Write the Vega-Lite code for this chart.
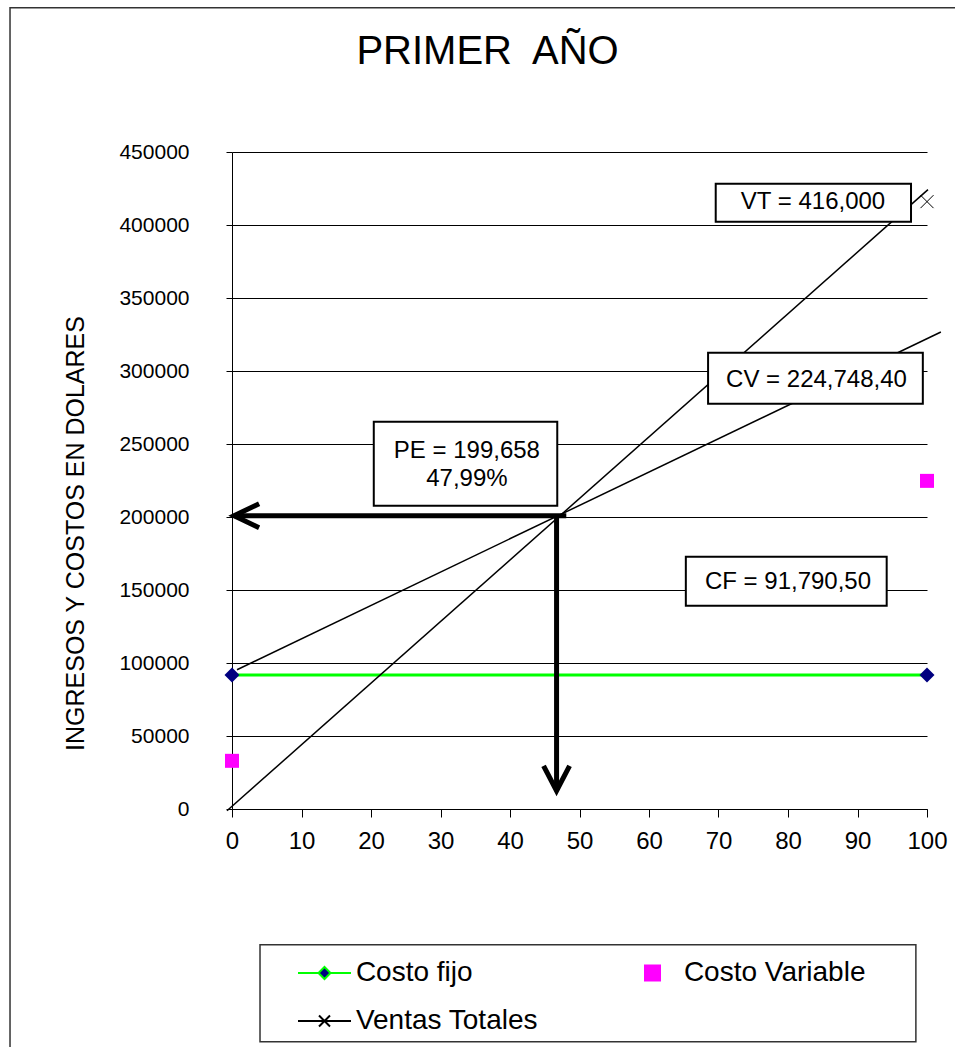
{
  "$schema": "https://vega.github.io/schema/vega-lite/v6.json",
  "width": 695,
  "height": 657,
  "autosize": {"type": "none"},
  "padding": {"left": 232, "top": 152, "right": 28, "bottom": 238},
  "background": "white",
  "title": {
    "text": "PRIMER\u00a0 AÑO",
    "font": "Liberation Sans",
    "fontSize": 40,
    "fontWeight": "normal",
    "color": "black",
    "anchor": "middle",
    "dx": -92,
    "offset": 0,
    "dy": 97,
    "baseline": "alphabetic"
  },
  "config": {
    "view": {"stroke": null},
    "font": "Liberation Sans"
  },
  "datasets": {
    "series": [
      {"serie": "Costo fijo", "x": 0, "y": 91790.5},
      {"serie": "Costo fijo", "x": 100, "y": 91790.5},
      {"serie": "Costo Variable", "x": 0, "y": 33000},
      {"serie": "Costo Variable", "x": 100, "y": 224748.4},
      {"serie": "Ventas Totales", "x": 100, "y": 416000}
    ],
    "frames": [
      {"id": "chart", "x1": -31.94, "x2": 104.7, "y1": -164860, "y2": 548840},
      {"id": "legend", "x1": 4.03, "x2": 98.4, "y1": -159380, "y2": -92950}
    ],
    "guides": [
      {"part": "VT", "seq": 0, "x": -0.72, "y": -1200},
      {"part": "VT", "seq": 1, "x": 100.14, "y": 424200},
      {"part": "CT", "seq": 0, "x": 0.72, "y": 95400},
      {"part": "CT", "seq": 1, "x": 102.0, "y": 326700}
    ],
    "arrows": [
      {"part": "h", "seq": 0, "x": 48.1, "y": 200900},
      {"part": "h", "seq": 1, "x": 0.3, "y": 200900},
      {"part": "hHead", "seq": 0, "x": 3.9, "y": 209100},
      {"part": "hHead", "seq": 1, "x": 0.3, "y": 200900},
      {"part": "hHead", "seq": 2, "x": 3.9, "y": 192700},
      {"part": "v", "seq": 0, "x": 46.7, "y": 200900},
      {"part": "v", "seq": 1, "x": 46.7, "y": 12500},
      {"part": "vHead", "seq": 0, "x": 44.83, "y": 29600},
      {"part": "vHead", "seq": 1, "x": 46.7, "y": 12500},
      {"part": "vHead", "seq": 2, "x": 48.57, "y": 29600}
    ],
    "boxes": [
      {"id": "VT", "x1": 69.6, "x2": 97.7, "y1": 402300, "y2": 428300},
      {"id": "CV", "x1": 68.5, "x2": 99.4, "y1": 277600, "y2": 312500},
      {"id": "PE", "x1": 20.4, "x2": 46.8, "y1": 207700, "y2": 265300},
      {"id": "CF", "x1": 65.3, "x2": 94.2, "y1": 139200, "y2": 172800}
    ],
    "labels": [
      {"text": "VT = 416,000", "x": 83.6, "y": 415600},
      {"text": "CV = 224,748,40", "x": 84.1, "y": 293800},
      {"text": "PE = 199,658", "x": 33.8, "y": 245500},
      {"text": "47,99%", "x": 33.8, "y": 225800},
      {"text": "CF = 91,790,50", "x": 80.0, "y": 155350}
    ]
  },
  "layer": [
    {
      "data": {"name": "frames"},
      "mark": {"type": "rect", "fill": "white", "fillOpacity": 0, "stroke": "#333333", "strokeWidth": 1.5},
      "encoding": {
        "x": {"field": "x1", "type": "quantitative"},
        "x2": {"field": "x2"},
        "y": {"field": "y1", "type": "quantitative"},
        "y2": {"field": "y2"}
      }
    },
    {
      "data": {"name": "series"},
      "transform": [{"filter": "datum.serie == 'Costo fijo'"}],
      "mark": {"type": "line", "color": "#00FF00", "strokeWidth": 3},
      "encoding": {
        "x": {
          "field": "x", "type": "quantitative",
          "scale": {"domain": [0, 100], "nice": false, "zero": false},
          "axis": {
            "title": null,
            "values": [0, 10, 20, 30, 40, 50, 60, 70, 80, 90, 100],
            "grid": false,
            "domainColor": "black", "domainWidth": 1,
            "tickColor": "black", "tickSize": 8, "tickWidth": 1,
            "labelFont": "Liberation Sans", "labelFontSize": 24, "labelColor": "black",
            "labelPadding": 12, "labelFlush": false, "labelOverlap": false
          }
        },
        "y": {
          "field": "y", "type": "quantitative",
          "scale": {"domain": [0, 450000], "nice": false, "zero": false},
          "axis": {
            "title": "INGRESOS Y COSTOS EN DOLARES",
            "titleFont": "Liberation Sans", "titleFontSize": 25, "titleFontWeight": "normal",
            "titleColor": "black", "titleX": -149, "titleY": 381, "titleAngle": 270,
            "titleBaseline": "alphabetic", "titleAlign": "center",
            "values": [0, 50000, 100000, 150000, 200000, 250000, 300000, 350000, 400000, 450000],
            "format": "d",
            "grid": true, "gridColor": "black", "gridWidth": 1, "gridOpacity": 1,
            "domainColor": "black", "domainWidth": 1,
            "tickColor": "black", "tickSize": 6, "tickWidth": 1,
            "labelFont": "Liberation Sans", "labelFontSize": 21, "labelColor": "black",
            "labelPadding": 37, "labelFlush": false, "labelOverlap": false
          }
        }
      }
    },
    {
      "data": {"name": "guides"},
      "mark": {"type": "line", "color": "black", "strokeWidth": 1.5},
      "encoding": {
        "x": {"field": "x", "type": "quantitative"},
        "y": {"field": "y", "type": "quantitative"},
        "detail": {"field": "part"},
        "order": {"field": "seq"}
      }
    },
    {
      "data": {"name": "arrows"},
      "mark": {"type": "line", "color": "black", "strokeWidth": 5, "strokeJoin": "miter", "strokeCap": "butt"},
      "encoding": {
        "x": {"field": "x", "type": "quantitative"},
        "y": {"field": "y", "type": "quantitative"},
        "detail": {"field": "part"},
        "order": {"field": "seq"}
      }
    },
    {
      "data": {"name": "series"},
      "transform": [{"filter": "datum.serie == 'Costo fijo'"}],
      "mark": {"type": "point", "shape": "diamond", "filled": true, "color": "#000080", "size": 225, "opacity": 1},
      "encoding": {
        "x": {"field": "x", "type": "quantitative"},
        "y": {"field": "y", "type": "quantitative"}
      }
    },
    {
      "data": {"name": "series"},
      "transform": [{"filter": "datum.serie == 'Costo Variable'"}],
      "mark": {"type": "point", "shape": "square", "filled": true, "color": "#FF00FF", "size": 196, "opacity": 1},
      "encoding": {
        "x": {"field": "x", "type": "quantitative"},
        "y": {"field": "y", "type": "quantitative"}
      }
    },
    {
      "data": {"name": "series"},
      "transform": [{"filter": "datum.serie == 'Ventas Totales'"}],
      "mark": {"type": "point", "shape": "M-1,-1L1,1M-1,1L1,-1", "filled": false, "color": "black", "strokeWidth": 1, "size": 169, "opacity": 1},
      "encoding": {
        "x": {"field": "x", "type": "quantitative"},
        "y": {"field": "y", "type": "quantitative"}
      }
    },
    {
      "data": {"name": "boxes"},
      "mark": {"type": "rect", "fill": "white", "stroke": "black", "strokeWidth": 2},
      "encoding": {
        "x": {"field": "x1", "type": "quantitative"},
        "x2": {"field": "x2"},
        "y": {"field": "y1", "type": "quantitative"},
        "y2": {"field": "y2"}
      }
    },
    {
      "data": {"name": "labels"},
      "mark": {"type": "text", "font": "Liberation Sans", "fontSize": 24, "color": "black", "align": "center", "baseline": "middle"},
      "encoding": {
        "x": {"field": "x", "type": "quantitative"},
        "y": {"field": "y", "type": "quantitative"},
        "text": {"field": "text"}
      }
    },
    {
      "data": {"name": "series"},
      "transform": [{"filter": "false"}],
      "mark": {"type": "point", "filled": true, "opacity": 1},
      "encoding": {
        "fill": {
          "field": "serie", "type": "nominal",
          "scale": {"domain": ["Costo fijo", "Costo Variable", "Ventas Totales"], "range": ["#000080", "#FF00FF", "black"]},
          "legend": {
            "orient": "none", "legendX": 28, "legendY": 793, "columns": 2, "direction": "horizontal", "title": null,
            "padding": 14,
            "symbolSize": 400, "symbolStrokeWidth": 2, "symbolOffset": 36.5,
            "labelFont": "Liberation Sans", "labelFontSize": 28, "labelColor": "black", "labelLimit": 500,
            "labelOffset": 17.4, "columnPadding": 63, "rowPadding": 20
          }
        },
        "stroke": {
          "field": "serie", "type": "nominal",
          "scale": {"domain": ["Costo fijo", "Costo Variable", "Ventas Totales"], "range": ["#00FF00", "#FF00FF", "black"]},
          "legend": {
            "orient": "none", "legendX": 28, "legendY": 793, "columns": 2, "direction": "horizontal", "title": null,
            "padding": 14,
            "symbolSize": 400, "symbolStrokeWidth": 2, "symbolOffset": 36.5,
            "labelFont": "Liberation Sans", "labelFontSize": 28, "labelColor": "black", "labelLimit": 500,
            "labelOffset": 17.4, "columnPadding": 63, "rowPadding": 20
          }
        },
        "shape": {
          "field": "serie", "type": "nominal",
          "scale": {
            "domain": ["Costo fijo", "Costo Variable", "Ventas Totales"],
            "range": [
              "M-2.65,0H-0.6M0.6,0H2.65M0,-0.6L0.6,0L0,0.6L-0.6,0Z",
              "M-0.75,-0.75H0.75V0.75H-0.75Z",
              "M-2.65,0H2.65M-0.55,-0.55L0.55,0.55M-0.55,0.55L0.55,-0.55"
            ]
          },
          "legend": {
            "orient": "none", "legendX": 28, "legendY": 793, "columns": 2, "direction": "horizontal", "title": null,
            "padding": 14,
            "symbolSize": 400, "symbolStrokeWidth": 2, "symbolOffset": 36.5,
            "labelFont": "Liberation Sans", "labelFontSize": 28, "labelColor": "black", "labelLimit": 500,
            "labelOffset": 17.4, "columnPadding": 63, "rowPadding": 20
          }
        }
      }
    }
  ]
}
